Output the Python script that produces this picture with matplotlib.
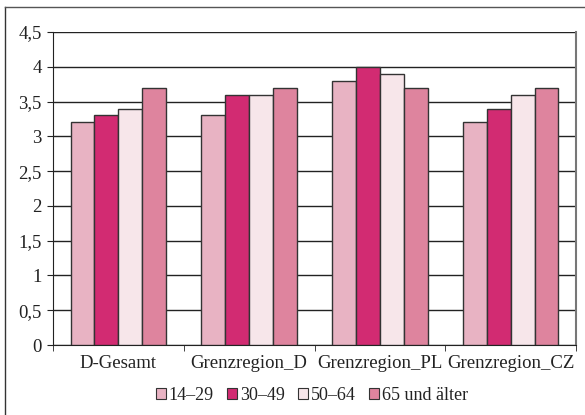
import matplotlib
matplotlib.use("Agg")
import matplotlib.pyplot as plt
import numpy as np
from matplotlib.lines import Line2D

plt.rcParams['font.family'] = ['Liberation Serif', 'DejaVu Serif']

categories = ["D-Gesamt", "Grenzregion_D", "Grenzregion_PL", "Grenzregion_CZ"]
series_names = ["14–29", "30–49", "50–64", "65 und älter"]
v_14_29 = [3.2, 3.3, 3.8, 3.2]
v_30_49 = [3.3, 3.6, 4.0, 3.4]
v_50_64 = [3.4, 3.6, 3.9, 3.6]
v_65 = [3.7, 3.7, 3.7, 3.7]
colors = ["#E8B3C3", "#D22B72", "#F7E6EA", "#DE849E"]
y_ticks = [0, 0.5, 1, 1.5, 2, 2.5, 3, 3.5, 4, 4.5]

fig = plt.figure(figsize=(5.85, 4.15), dpi=100)
ax = fig.add_axes([53/585, 1-345/415, (576-53)/585, (345-32)/415])

# outer frame (only left and top edges are visible)
fig.add_artist(Line2D([5/585, 5/585], [1-7/415, 0], color="#333333", lw=1.0))
fig.add_artist(Line2D([5/585, 1], [1-7/415, 1-7/415], color="#555555", lw=1.0))

x = np.arange(len(categories))
w = 0.183
all_vals = [v_14_29, v_30_49, v_50_64, v_65]
for i, (vals, c, name) in enumerate(zip(all_vals, colors, series_names)):
    ax.bar(x + (i - 1.5) * w, vals, width=w, color=c, edgecolor="#333333",
           linewidth=1.0, label=name, zorder=3)

ax.set_ylim(0, 4.5)
ax.set_xlim(-0.5, 3.5)
ax.set_yticks(y_ticks)
ax.set_yticklabels([str(t).replace(".", ",").replace(",0", "") if t != 0 else "0" for t in y_ticks],
                   fontsize=13.5, color="#222222")
ax.yaxis.grid(True, color="#222222", lw=1.0, zorder=0)
ax.set_axisbelow(True)

ax.set_xticks(x)
ax.set_xticklabels(categories, fontsize=13.5, color="#222222")
ax.tick_params(axis="x", length=0, pad=7)
ax.set_xticks(np.arange(-0.5, 4.0, 1.0), minor=True)
ax.tick_params(axis="x", which="minor", length=4, direction="out", color="#222222")
ax.tick_params(axis="y", length=4, direction="out", color="#222222", pad=4)

ax.spines["top"].set_visible(False)
ax.spines["right"].set_color("#777777")
ax.spines["right"].set_linewidth(1.5)
ax.spines["left"].set_color("#222222")
ax.spines["bottom"].set_color("#222222")

leg = fig.legend(loc="center", bbox_to_anchor=(312/585, 1-395/415), ncol=4, frameon=False,
                 fontsize=13, handlelength=0.55, handleheight=0.55, handletextpad=0.15,
                 columnspacing=0.75)
for t in leg.get_texts():
    t.set_color("#222222")
for h in leg.legend_handles:
    h.set_linewidth(0.8)

fig.savefig("out.png", dpi=100)
